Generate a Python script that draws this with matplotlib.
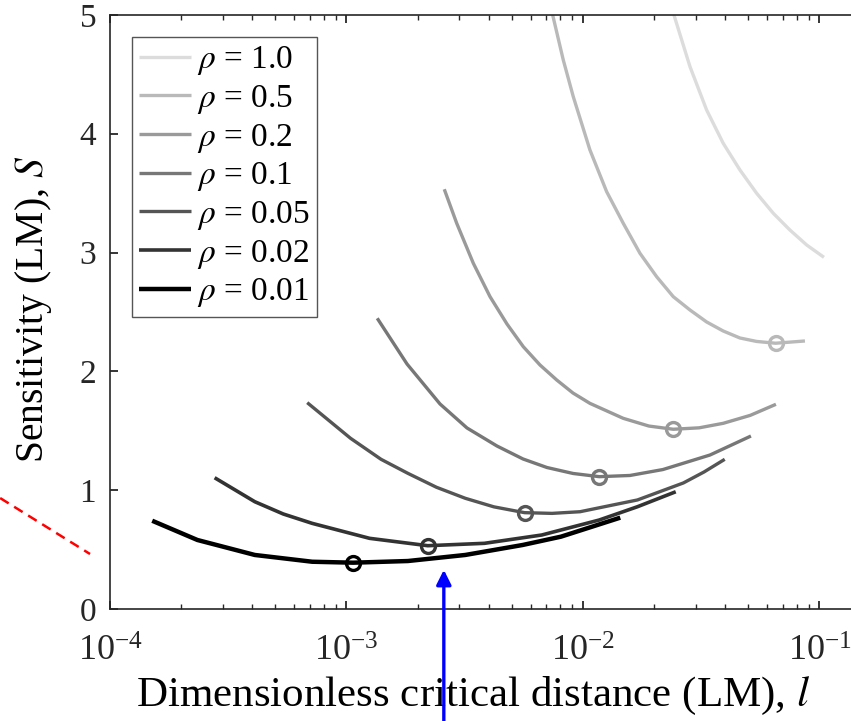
import matplotlib
matplotlib.use("Agg")
import matplotlib.pyplot as plt

plt.rcParams['font.family'] = ['Liberation Serif', 'DejaVu Serif']
plt.rcParams['mathtext.fontset'] = 'stix'

# sensitivity curves S(l) for each correlation coefficient rho
rho_labels = ['1.0', '0.5', '0.2', '0.1', '0.05', '0.02', '0.01']
colors = ['#dcdcdc', '#b9b9b9', '#9a9a9a', '#777777', '#555555', '#333333', '#000000']
widths = [2.4, 2.4, 2.4, 2.4, 2.4, 2.6, 3.2]

l_10 = [2.425e-2, 2.835e-2, 3.334e-2, 3.918e-2, 4.612e-2, 5.426e-2, 6.378e-2,
        7.502e-2, 8.830e-2, 0.1045]
S_10 = [5.0, 4.565, 4.200, 3.920, 3.695, 3.499, 3.331, 3.190, 3.064, 2.960]

l_05 = [7.445e-3, 8.255e-3, 9.10e-3, 1.070e-2, 1.259e-2, 1.480e-2, 1.742e-2,
        2.049e-2, 2.409e-2, 2.834e-2, 3.334e-2, 3.918e-2, 4.612e-2, 5.426e-2,
        6.528e-2, 8.685e-2]
S_05 = [5.0, 4.621, 4.312, 3.864, 3.513, 3.247, 2.994,
        2.797, 2.629, 2.517, 2.416, 2.340, 2.281, 2.252,
        2.237, 2.256]

l_02 = [2.591e-3, 2.924e-3, 3.438e-3, 4.045e-3, 4.771e-3, 5.593e-3, 6.580e-3,
        7.741e-3, 9.073e-3, 1.070e-2, 1.480e-2, 1.90e-2, 2.409e-2, 3.10e-2,
        3.918e-2, 5.10e-2, 6.547e-2]
S_02 = [3.533, 3.247, 2.910, 2.629, 2.399, 2.208, 2.054,
        1.928, 1.818, 1.731, 1.605, 1.540, 1.513, 1.525,
        1.563, 1.630, 1.723]

l_01 = [1.349e-3, 1.803e-3, 2.485e-3, 3.232e-3, 4.329e-3, 5.576e-3, 7.043e-3,
        9.073e-3, 1.172e-2, 1.580e-2, 2.179e-2, 3.443e-2, 5.133e-2]
S_01 = [2.447, 2.062, 1.726, 1.524, 1.372, 1.263, 1.191,
        1.141, 1.114, 1.124, 1.174, 1.296, 1.456]

l_005 = [6.822e-4, 1.040e-3, 1.40e-3, 1.818e-3, 2.40e-3, 3.179e-3, 4.20e-3,
         5.664e-3, 7.40e-3, 9.721e-3, 1.700e-2, 2.658e-2, 3.248e-2, 3.977e-2]
S_005 = [1.737, 1.437, 1.260, 1.142, 1.025, 0.932, 0.860,
         0.811, 0.805, 0.819, 0.918, 1.061, 1.153, 1.260]

l_002 = [2.769e-4, 4.096e-4, 5.40e-4, 7.161e-4, 1.252e-3, 2.207e-3, 3.830e-3,
         6.695e-3, 1.171e-2, 1.700e-2, 2.468e-2]
S_002 = [1.105, 0.903, 0.800, 0.721, 0.595, 0.533, 0.553,
         0.623, 0.749, 0.861, 0.987]

l_001 = [1.508e-4, 2.342e-4, 4.096e-4, 7.161e-4, 1.067e-3, 1.818e-3, 3.179e-3,
         5.559e-3, 8.072e-3, 1.438e-2]
S_001 = [0.743, 0.581, 0.455, 0.398, 0.390, 0.404, 0.455,
         0.539, 0.609, 0.769]

# optimum (minimum S) for each rho, none in range for rho = 1.0
l_opt = [None, 6.528e-2, 2.409e-2, 1.172e-2, 5.664e-3, 2.207e-3, 1.067e-3]
S_opt = [None, 2.237, 1.513, 1.114, 0.811, 0.533, 0.390]

l_all = [l_10, l_05, l_02, l_01, l_005, l_002, l_001]
S_all = [S_10, S_05, S_02, S_01, S_005, S_002, S_001]

# extra guide line and arrow
guide_l = [3.43e-5, 8.23e-5]
guide_S = [0.934, 0.463]
arrow_l = 2.58e-3
arrow_S = 0.33

fig = plt.figure(figsize=(8.51, 7.21), dpi=100)
ax = fig.add_axes([0.1293, 0.1553, 0.8707, 0.824])

for i in range(len(rho_labels)):
    ax.plot(l_all[i], S_all[i], color=colors[i], lw=widths[i],
            label=r'$\rho$ = ' + rho_labels[i], solid_capstyle='butt',
            solid_joinstyle='round')
    if l_opt[i] is not None:
        ax.plot(l_opt[i], S_opt[i], 'o', mfc='none', mec=colors[i],
                mew=2.4, ms=10)

ax.plot(guide_l, guide_S, '--', color='red', lw=1.8, dashes=(4, 2.6), clip_on=False)
ax.annotate('', xy=(arrow_l, arrow_S), xycoords='data',
            xytext=(arrow_l, 0.0), textcoords=('data', 'figure fraction'),
            arrowprops=dict(arrowstyle='-|>', color='blue', lw=2.4,
                            mutation_scale=22, shrinkA=0, shrinkB=0),
            annotation_clip=False)

ax.set_xscale('log')
ax.set_xlim(1e-4, 0.136)
ax.set_ylim(0, 5)
ax.set_yticks([0, 1, 2, 3, 4, 5])

for side in ['top', 'bottom', 'left']:
    ax.spines[side].set_color('#262626')
    ax.spines[side].set_linewidth(1.2)
ax.spines['right'].set_visible(False)
ax.tick_params(which='both', direction='in', top=True, right=False,
               colors='#262626')
ax.tick_params(which='major', length=6, width=1.3)
ax.tick_params(which='minor', length=3.5, width=1.0)
ax.tick_params(axis='x', which='major', pad=19, labelsize=26)
ax.tick_params(axis='y', which='major', pad=10, labelsize=24)

ax.set_xlabel(r'Dimensionless critical distance (LM), $l$', fontsize=31)
ax.set_ylabel(r'Sensitivity (LM), $S$', fontsize=28.5)
ax.xaxis.set_label_coords(0.4905, -0.111)
ax.yaxis.set_label_coords(-0.103, 0.505)
ax.yaxis.label.set_va('center')

leg = ax.legend(loc='upper left', bbox_to_anchor=(132 / 851, 1 - 37 / 721),
                bbox_transform=fig.transFigure, fontsize=24,
                fancybox=False, framealpha=1, edgecolor='#555555',
                handlelength=1.55, handletextpad=0.18, labelspacing=0.17,
                borderpad=0.22, borderaxespad=0)
leg.get_frame().set_linewidth(1.0)

fig.savefig('out.png', dpi=100)
